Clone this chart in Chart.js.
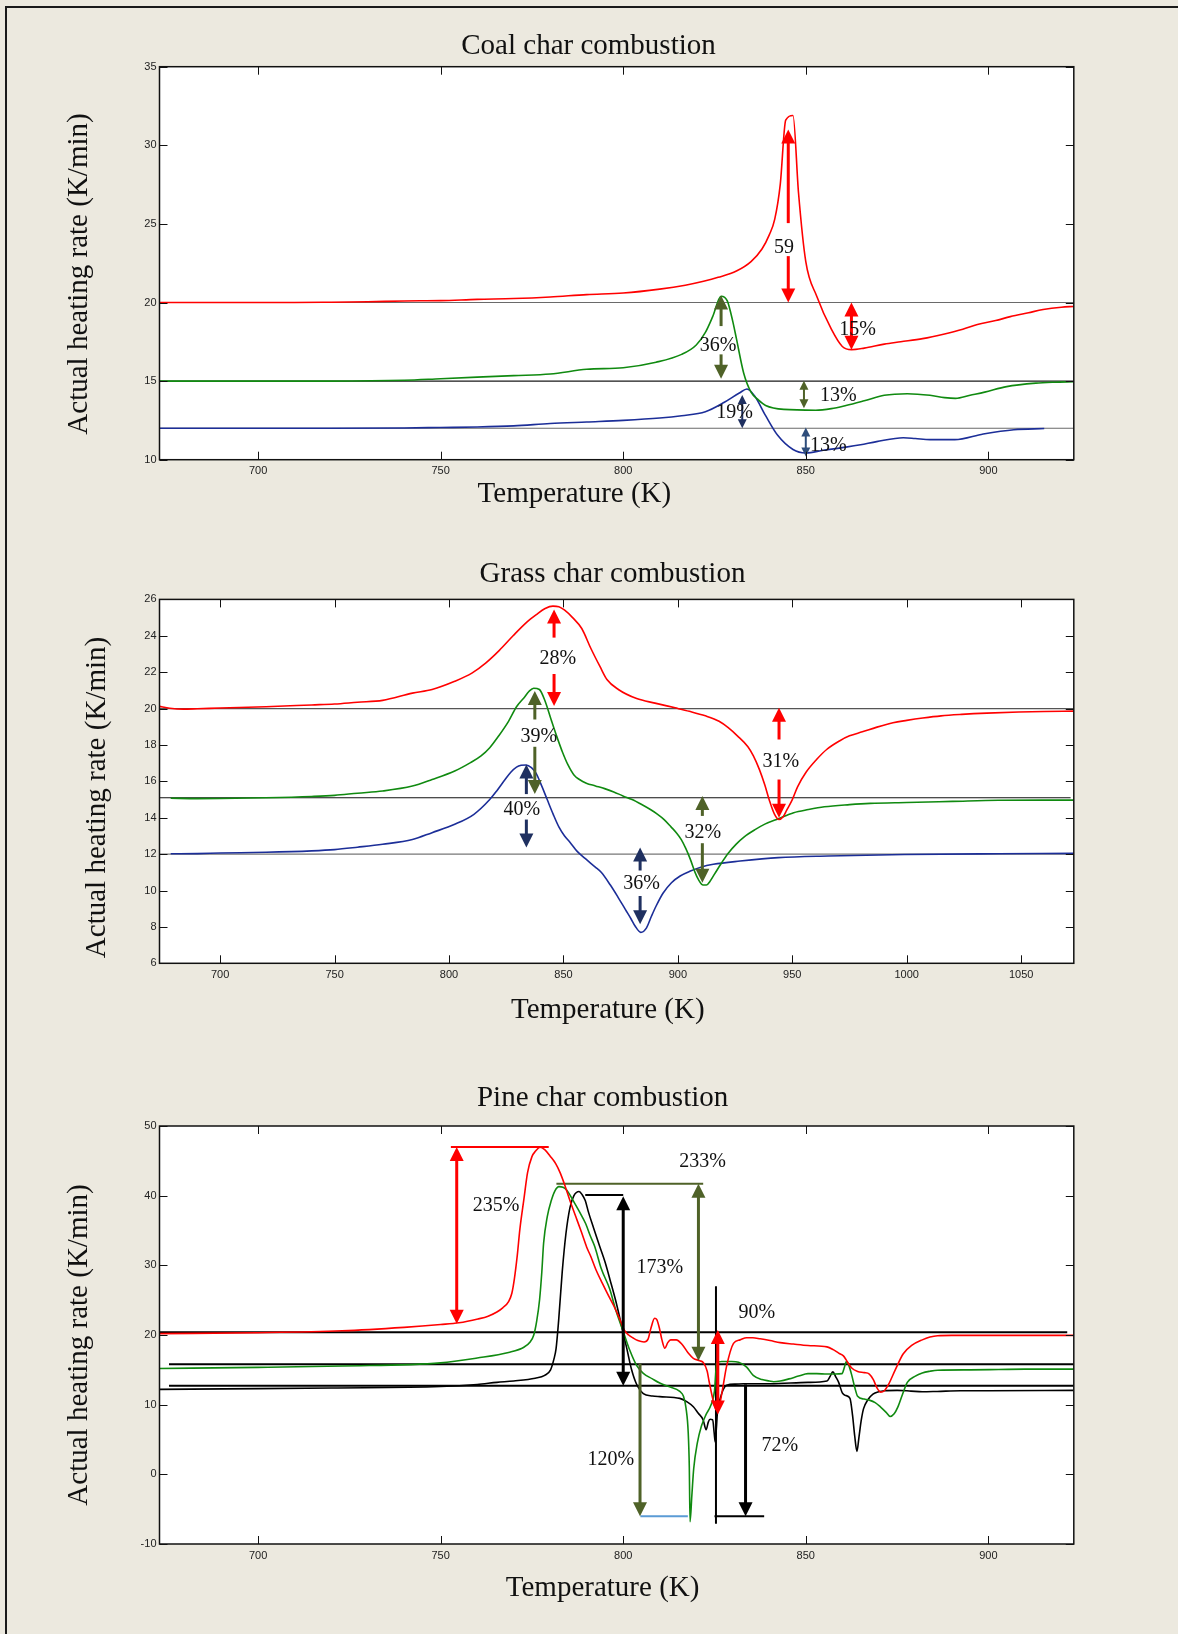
<!DOCTYPE html>
<html>
<head>
<meta charset="utf-8">
<script src="https://cdn.jsdelivr.net/npm/chart.js@4.4.1/dist/chart.umd.min.js"></script>
<style>
  html, body { margin: 0; padding: 0; background: #ece9df; }
  body { width: 1178px; height: 1634px; position: relative; overflow: hidden; }
  .frame { position: absolute; left: 5px; top: 6px; width: 1200px; height: 1700px;
           border-left: 2px solid #1a1a1a; border-top: 2px solid #1a1a1a; }
  canvas { position: absolute; left: 0; }
</style>
</head>
<body>
<div class="frame"></div>
<canvas id="coal"></canvas>
<canvas id="grass"></canvas>
<canvas id="pine"></canvas>
<script>
// ---------- data: temperature (K) vs actual heating rate (K/min) ----------

const coalXTicks = [700, 750, 800, 850, 900];
const coalYTicks = [10, 15, 20, 25, 30, 35];
const coalBaselines = [20, 15, 12];

const coalRed = [[673,20.0],[690,20.0],[700,20.0],[710,20.0],[720,20.02],[730,20.05],[740,20.1],[750,20.12],[760,20.2],[770,20.25],[780,20.35],[790,20.5],[800,20.6],[810,20.85],[817,21.1],[822,21.35],[826,21.6],[831,22.0],[835,22.6],[838,23.4],[840,24.3],[841.5,25.3],[843,27.5],[844.5,31.6],[846.5,31.9],[848,27.0],[850,22.6],[853,20.4],[857,18.3],[860,17.2],[862.5,17.0],[866,17.1],[871.5,17.35],[876,17.5],[882,17.7],[888,18.0],[893,18.3],[897,18.6],[902,18.85],[906,19.1],[911,19.35],[915,19.55],[920,19.7],[923.4,19.75]];
const coalGreen = [[673,15.0],[700,15.0],[720,15.0],[740,15.05],[750,15.15],[760,15.25],[770,15.35],[780,15.45],[790,15.75],[800,15.85],[809,16.2],[816,16.7],[820,17.3],[822.5,18.1],[824.5,19.1],[826.8,20.4],[828.5,20.1],[830,18.8],[831,17.7],[833,15.5],[835,14.3],[837,13.8],[839,13.45],[844,13.2],[852.7,13.15],[857,13.25],[861,13.45],[866,13.75],[871.5,14.1],[877.8,14.2],[884,14.1],[888,13.95],[891,13.9],[895,14.1],[899,14.3],[905,14.65],[913,14.87],[918,14.93],[923.4,14.96]];
const coalBlue = [[673,12.0],[700,12.0],[720,12.0],[740,12.02],[750,12.05],[760,12.08],[770,12.15],[780,12.3],[790,12.4],[800,12.5],[810,12.65],[816,12.8],[822.5,13.05],[827.7,13.65],[831.8,14.24],[833.9,14.5],[836,14.05],[839,12.8],[842.3,11.55],[846.5,10.65],[850,10.43],[854.8,10.6],[861,10.8],[865,10.95],[869.4,11.15],[876.7,11.4],[880,11.35],[884,11.28],[890.8,11.28],[898.6,11.64],[907,11.91],[915.3,11.98]];

// arrows: x, lo, hi, which heads, optional gap left for the label
const coalArrows = [
  { x: 845.2, lo: 20.0, hi: 31.0, heads: 'both', gap: [22.95, 25.05], color: 'red', size: 'big' },
  { x: 862.5, lo: 17.0, hi: 20.0, heads: 'both', color: 'red', size: 'big' },
  { x: 826.8, lo: 15.15, hi: 20.45, heads: 'both', gap: [16.7, 18.5], color: 'olive', size: 'big' },
  { x: 849.5, lo: 13.27, hi: 15.03, heads: 'both', color: 'olive', size: 'small' },
  { x: 832.6, lo: 12.0, hi: 14.12, heads: 'both', color: 'navy', size: 'small' },
  { x: 850.0, lo: 10.2, hi: 12.05, heads: 'both', color: 'steel', size: 'small' }
];
const coalLabels = [
  { x: 844.0, y: 23.46, text: '59' },
  { x: 864.2, y: 18.29, text: '15%' },
  { x: 826.0, y: 17.23, text: '36%' },
  { x: 858.9, y: 14.04, text: '13%' },
  { x: 830.5, y: 12.98, text: '19%' },
  { x: 856.2, y: 10.86, text: '13%' }
];

const grassXTicks = [700, 750, 800, 850, 900, 950, 1000, 1050];
const grassYTicks = [6, 8, 10, 12, 14, 16, 18, 20, 22, 24, 26];
const grassBaselines = [20, 15.1, 12];

const grassRed = [[673.4,20.12],[678,20.02],[684,19.97],[690,19.99],[700,20.03],[720,20.1],[740,20.2],[750,20.25],[760,20.35],[771,20.45],[784,20.85],[792.6,21.05],[802.5,21.5],[810,21.95],[816,22.5],[822,23.2],[828,24.0],[834,24.75],[838,25.15],[842,25.5],[845.4,25.63],[848,25.6],[850.4,25.42],[854,25.0],[858,24.4],[862,23.3],[866,22.3],[869,21.6],[874,21.05],[882,20.55],[890,20.3],[898.8,20.04],[905,19.85],[912,19.6],[918,19.3],[922,18.95],[926,18.5],[930.6,17.9],[933,17.4],[935.6,16.66],[938,15.8],[940,14.95],[942.2,14.2],[944.2,13.9],[946,14.05],[947.5,14.4],[950,15.0],[952.3,15.7],[956,16.5],[960.6,17.2],[965,17.75],[970.6,18.22],[975,18.5],[980.6,18.72],[987,18.98],[994,19.22],[1000,19.35],[1007,19.48],[1015,19.6],[1024,19.68],[1035,19.75],[1049,19.81],[1060,19.84],[1073,19.86]];
const grassGreen = [[678.4,15.07],[690,15.05],[700,15.06],[720,15.1],[740,15.17],[750,15.23],[760,15.35],[771,15.47],[784,15.74],[792.6,16.1],[802.5,16.57],[809.4,17.03],[814,17.4],[817.8,17.85],[822,18.55],[826,19.3],[829.5,20.1],[832.8,20.6],[835,20.95],[837,21.12],[839.5,21.05],[842,20.4],[844.6,19.4],[847,18.5],[849.6,17.6],[852,16.9],[854.6,16.35],[857,16.1],[860,15.9],[864,15.75],[868,15.6],[872,15.42],[876,15.2],[880,15.0],[884,14.74],[888,14.45],[891,14.2],[894,13.9],[897,13.5],[899.5,13.15],[901.5,12.8],[903.5,12.3],[905.5,11.7],[907.5,11.0],[909,10.6],[911,10.3],[912.5,10.3],[914,10.5],[916,10.9],[919,11.5],[922,12.05],[925.5,12.55],[929,12.95],[933.9,13.36],[938,13.65],[943.9,13.95],[950.6,14.28],[957,14.45],[964,14.6],[975,14.72],[984,14.79],[1000,14.84],[1020,14.9],[1040,14.96],[1073,14.97]];
const grassBlue = [[678.4,12.02],[690,12.03],[700,12.06],[720,12.1],[740,12.18],[750,12.25],[760,12.38],[771,12.54],[784,12.8],[792.6,13.18],[802.5,13.64],[810.9,14.19],[817.8,15.0],[821,15.5],[824.5,16.1],[827,16.5],[829.5,16.78],[831.5,16.88],[833.7,16.9],[836,16.75],[838,16.45],[840,15.9],[842.9,15.0],[845.5,14.2],[848,13.5],[850.5,13.0],[853,12.63],[856,12.15],[859.6,11.75],[863.8,11.3],[866.5,11.0],[870.5,10.3],[874,9.6],[877.1,8.95],[879.5,8.45],[881.3,8.05],[883.8,7.7],[886.3,7.95],[888.5,8.6],[890.5,9.15],[893.5,9.85],[897.2,10.43],[901,10.8],[905.5,11.07],[910,11.28],[915.5,11.44],[927.2,11.62],[943.9,11.81],[965.6,11.9],[999,11.98],[1040,12.02],[1073,12.04]];

const grassArrows = [
  { x: 845.9, lo: 20.14, hi: 25.45, heads: 'both', gap: [21.9, 23.9], color: 'red', size: 'big' },
  { x: 837.5, lo: 15.3, hi: 20.96, heads: 'both', gap: [17.9, 19.4], color: 'olive', size: 'big' },
  { x: 833.8, lo: 12.36, hi: 16.93, heads: 'both', gap: [13.9, 15.3], color: 'navy', size: 'big' },
  { x: 883.5, lo: 8.14, hi: 12.36, heads: 'both', gap: [9.7, 11.1], color: 'navy', size: 'big' },
  { x: 910.7, lo: 10.43, hi: 15.2, heads: 'both', gap: [12.6, 14.1], color: 'olive', size: 'big' },
  { x: 944.2, lo: 14.0, hi: 20.05, heads: 'both', gap: [16.1, 18.3], color: 'red', size: 'big' }
];
const grassLabels = [
  { x: 847.5, y: 22.73, text: '28%' },
  { x: 839.3, y: 18.44, text: '39%' },
  { x: 831.8, y: 14.42, text: '40%' },
  { x: 884.1, y: 10.36, text: '36%' },
  { x: 910.9, y: 13.16, text: '32%' },
  { x: 945.0, y: 17.06, text: '31%' }
];

const pineXTicks = [700, 750, 800, 850, 900];
const pineYTicks = [-10, 0, 10, 20, 30, 40, 50];

const pineRed = [[673,20.2],[700,20.33],[723,20.6],[740,21.1],[750,21.5],[755,21.75],[760.2,22.3],[763,22.7],[765.4,23.3],[767,23.9],[768.6,24.8],[769.5,26.0],[770.2,28.1],[771,31.5],[771.7,35.2],[772.8,39.5],[773.8,43.3],[775,45.6],[776,46.4],[777.2,46.96],[778.5,46.6],[780.1,45.6],[781.5,44.6],[782.8,43.2],[784,41.5],[785.4,39.3],[787,37.0],[788.6,34.7],[790,32.6],[791.1,31.3],[792.5,29.4],[794.3,27.4],[796,25.6],[797.4,24.2],[798.8,22.6],[800.3,20.7],[801.5,20.0],[802.6,19.6],[804,19.2],[805.7,19.0],[806.8,19.4],[807.6,21.0],[808.6,22.4],[809.2,22.2],[809.9,21.0],[810.6,19.3],[811.4,18.1],[812.2,18.9],[813,19.3],[814.5,19.3],[816.2,18.6],[817.8,17.4],[819.2,16.65],[821,16.3],[822,16.0],[823,14.8],[823.5,13.4],[824.5,10.9],[825.4,9.3],[826.2,9.6],[827.1,11.9],[828.3,15.5],[830.2,18.8],[832,19.3],[833.8,19.6],[835.5,19.6],[837.5,19.45],[840.2,19.2],[843,18.9],[846.6,18.7],[850.6,18.5],[855.8,18.3],[857.5,17.9],[859,17.4],[860.3,17.0],[861.1,16.4],[862.5,15.3],[864.2,14.75],[866,14.6],[867.4,14.4],[868.5,13.6],[869.5,12.4],[870.5,11.8],[871.5,12.0],[872.7,12.95],[874.5,15.0],[876.7,17.3],[879,18.5],[881.9,19.3],[884,19.7],[886.1,19.9],[890,19.95],[900,19.95],[923.4,19.95]];
const pineGreen = [[673,15.2],[700,15.35],[723,15.55],[750,16.0],[760,16.7],[768.6,17.5],[772.8,18.25],[774.5,19.0],[775.5,20.0],[776.3,22.0],[777.1,25.1],[777.7,29.0],[778.2,33.2],[779.2,37.0],[780.3,39.3],[781.3,40.7],[782.4,41.3],[783.5,41.2],[784.5,40.8],[786.6,39.0],[788,37.7],[789.7,36.0],[791,34.2],[792.2,32.7],[794,29.5],[796.3,26.6],[798,23.5],[800,20.5],[801.8,17.8],[803.7,15.6],[805.5,14.5],[808,13.7],[810,13.1],[812.5,12.6],[815.5,11.9],[816.5,11.2],[817.2,9.5],[817.8,6.0],[818.1,1.0],[818.3,-6.8],[818.8,-3.0],[819.3,0.8],[820.3,4.5],[821.4,6.9],[822.7,8.6],[824,9.9],[825,12.0],[825.6,16.0],[827,16.2],[829.7,16.2],[831.6,16.1],[833.8,15.4],[835.6,14.2],[838,13.6],[840,13.4],[841.2,13.3],[843,13.4],[845.4,13.7],[848,14.1],[850.6,14.45],[853,14.45],[855.8,14.4],[858,14.4],[859.9,14.45],[860.6,15.4],[861.1,16.2],[861.8,15.6],[862.6,14.2],[863.4,12.5],[864.2,11.2],[866,10.8],[867.4,10.65],[869,10.3],[870.5,9.65],[872,8.9],[873.1,8.3],[874.2,8.7],[875.2,9.65],[876.5,11.5],[877.8,13.2],[880,14.1],[881.9,14.55],[884,14.8],[886.1,14.95],[895,15.0],[902.8,15.05],[910,15.1],[923.4,15.1]];
const pineBlack = [[673,12.2],[700,12.3],[720,12.4],[750,12.6],[760,12.9],[765.4,13.2],[770,13.4],[775.9,13.8],[778.5,14.2],[780.1,15.0],[781,16.5],[781.6,18.0],[782.3,22.0],[783.3,29.1],[784.3,34.5],[785.4,38.25],[786.5,40.0],[787.9,40.6],[788.8,40.1],[789.6,39.3],[790.5,37.6],[791.8,35.5],[793.5,32.8],[795,30.5],[796.4,27.9],[798,24.8],[799.6,21.2],[801,18.0],[802.3,15.0],[803.6,13.0],[805.5,11.6],[808,11.25],[810,11.15],[815.5,10.9],[817.5,10.4],[819.2,9.7],[820.5,8.8],[821.9,7.8],[822.7,6.4],[823.3,7.5],[823.8,7.9],[824.5,7.85],[824.9,6.0],[825.2,4.6],[825.5,6.5],[825.8,8.9],[826.5,10.8],[828.3,12.8],[830.8,12.95],[832.9,13.0],[840.2,13.0],[850.6,13.2],[855.8,13.4],[856.6,14.0],[857.4,14.7],[858.2,14.0],[859,13.2],[860,11.7],[861,11.3],[862.1,10.9],[862.8,8.5],[863.4,5.5],[864,3.3],[864.6,5.5],[865.2,7.8],[865.8,9.4],[867,10.7],[868.4,11.5],[870,11.85],[871.5,12.0],[875,12.05],[878.8,11.95],[881.9,11.85],[886,11.9],[892.4,12.0],[900,12.0],[923.4,12.05]];

// baseline levels of the three runs, with their extent in K
const pineBaselines = [[20.4, 673, 921.6], [15.8, 675.6, 923.4], [12.7, 675.6, 923.4]];

// reference segments marking peak heights and dip depths
const pineMarkers = [
  { pts: [[752.8, 47.0], [779.6, 47.0]], color: 'red' },
  { pts: [[781.7, 41.7], [821.9, 41.7]], color: 'olive' },
  { pts: [[789.6, 40.1], [800.0, 40.1]], color: 'black' },
  { pts: [[825.4, 27.0], [825.4, -7.1]], color: 'black' },
  { pts: [[825.0, -6.0], [838.6, -6.0]], color: 'black' },
  { pts: [[804.7, -6.0], [817.7, -6.0]], color: 'sky' }
];
const pineArrows = [
  { x: 754.4, lo: 21.6, hi: 47.0, heads: 'both', color: 'red', size: 'big' },
  { x: 800.0, lo: 12.7, hi: 39.9, heads: 'both', color: 'black', size: 'big' },
  { x: 820.6, lo: 16.3, hi: 41.7, heads: 'both', color: 'olive', size: 'big' },
  { x: 804.6, lo: -6.0, hi: 15.9, heads: 'lo', color: 'olive', size: 'big' },
  { x: 833.5, lo: -6.0, hi: 12.9, heads: 'lo', color: 'black', size: 'big' },
  { x: 825.9, lo: 8.6, hi: 20.7, heads: 'both', color: 'red', size: 'big' }
];
const pineLabels = [
  { x: 765.2, y: 38.49, text: '235%' },
  { x: 821.7, y: 44.93, text: '233%' },
  { x: 810.0, y: 29.66, text: '173%' },
  { x: 836.6, y: 23.23, text: '90%' },
  { x: 796.6, y: 2.13, text: '120%' },
  { x: 842.9, y: 4.07, text: '72%' }
];

// ---------- styling ----------

const COLORS = {
  red: '#ff0000',
  green: '#108a10',
  blue: '#1c2e98',
  black: '#000000',
  olive: '#4f6228',
  navy: '#1f3060',
  steel: '#2e4d7b',
  sky: '#5b9bd5'
};
const SERIF = '"Liberation Serif", "Times New Roman", serif';
const SANS = '"Liberation Sans", Arial, sans-serif';
const PAGE_W = 1178;
const Y_AXIS_W = 42;
const X_AXIS_H = 28;

function toXY(pts) {
  return pts.map(p => ({ x: p[0], y: p[1] }));
}

function curve(pts, color) {
  return { data: toXY(pts), borderColor: color, borderWidth: 1.6, pointRadius: 0, fill: false,
           cubicInterpolationMode: 'monotone', order: 0 };
}

function rule(pts, color, width) {
  return { data: toXY(pts), borderColor: color, borderWidth: width, pointRadius: 0, fill: false, order: 1 };
}

function drawArrow(ctx, xs, ys, a) {
  const big = a.size === 'big';
  const headW = big ? 14 : 9;
  const headL = big ? 14 : 9;
  const px = xs.getPixelForValue(a.x);
  const pLo = ys.getPixelForValue(a.lo);
  const pHi = ys.getPixelForValue(a.hi);
  const color = COLORS[a.color];
  const hasHi = a.heads === 'both' || a.heads === 'hi';
  const hasLo = a.heads === 'both' || a.heads === 'lo';
  ctx.save();
  ctx.strokeStyle = color;
  ctx.fillStyle = color;
  ctx.lineWidth = big ? 3 : 2;
  const top = hasHi ? pHi + headL - 1 : pHi;
  const bottom = hasLo ? pLo - headL + 1 : pLo;
  const segs = [];
  if (a.gap) {
    segs.push([top, ys.getPixelForValue(a.gap[1])], [ys.getPixelForValue(a.gap[0]), bottom]);
  } else {
    segs.push([top, bottom]);
  }
  segs.forEach(s => {
    if (s[1] > s[0]) {
      ctx.beginPath();
      ctx.moveTo(px, s[0]);
      ctx.lineTo(px, s[1]);
      ctx.stroke();
    }
  });
  if (hasHi) {
    ctx.beginPath();
    ctx.moveTo(px, pHi);
    ctx.lineTo(px - headW / 2, pHi + headL);
    ctx.lineTo(px + headW / 2, pHi + headL);
    ctx.closePath();
    ctx.fill();
  }
  if (hasLo) {
    ctx.beginPath();
    ctx.moveTo(px, pLo);
    ctx.lineTo(px - headW / 2, pLo - headL);
    ctx.lineTo(px + headW / 2, pLo - headL);
    ctx.closePath();
    ctx.fill();
  }
  ctx.restore();
}

// white plot background, box with inward ticks, titles and annotations
const panelDecor = {
  id: 'panelDecor',
  beforeDatasetsDraw(chart) {
    const { ctx, chartArea: a } = chart;
    ctx.save();
    ctx.fillStyle = '#ffffff';
    ctx.fillRect(a.left, a.top, a.right - a.left, a.bottom - a.top);
    ctx.restore();
  },
  afterDraw(chart, args, opts) {
    const { ctx, chartArea: a } = chart;
    const xs = chart.scales.x;
    const ys = chart.scales.y;
    ctx.save();

    // arrows and percentage labels
    (opts.arrows || []).forEach(ar => drawArrow(ctx, xs, ys, ar));
    ctx.fillStyle = '#111';
    ctx.font = '20px ' + SERIF;
    ctx.textAlign = 'center';
    ctx.textBaseline = 'middle';
    (opts.labels || []).forEach(l => {
      ctx.fillText(l.text, xs.getPixelForValue(l.x), ys.getPixelForValue(l.y));
    });

    // axes box
    ctx.strokeStyle = '#111';
    ctx.lineWidth = 1.5;
    ctx.strokeRect(a.left, a.top, a.right - a.left, a.bottom - a.top);
    ctx.lineWidth = 1;
    const tl = 8;
    ctx.beginPath();
    xs.ticks.forEach(t => {
      const x = Math.round(xs.getPixelForValue(t.value)) + 0.5;
      ctx.moveTo(x, a.bottom); ctx.lineTo(x, a.bottom - tl);
      ctx.moveTo(x, a.top); ctx.lineTo(x, a.top + tl);
    });
    ys.ticks.forEach(t => {
      const y = Math.round(ys.getPixelForValue(t.value)) + 0.5;
      ctx.moveTo(a.left, y); ctx.lineTo(a.left + tl, y);
      ctx.moveTo(a.right, y); ctx.lineTo(a.right - tl, y);
    });
    ctx.stroke();

    // titles
    const off = opts.offset;
    ctx.fillStyle = '#111';
    ctx.font = '29px ' + SERIF;
    ctx.textAlign = 'center';
    ctx.textBaseline = 'middle';
    ctx.fillText(opts.title, opts.titlePos[0], opts.titlePos[1] - off);
    ctx.fillText('Temperature (K)', opts.xTitlePos[0], opts.xTitlePos[1] - off);
    ctx.translate(opts.yTitlePos[0], opts.yTitlePos[1] - off);
    ctx.rotate(-Math.PI / 2);
    ctx.fillText('Actual heating rate (K/min)', 0, 0);
    ctx.restore();
  }
};

function makePanel(p) {
  const canvas = document.getElementById(p.id);
  canvas.width = PAGE_W;
  canvas.height = p.height;
  canvas.style.top = p.top + 'px';
  const box = p.plot;
  new Chart(canvas, {
    type: 'line',
    data: { datasets: p.datasets },
    options: {
      responsive: false,
      animation: false,
      devicePixelRatio: 1,
      layout: {
        padding: {
          left: box.left - Y_AXIS_W,
          right: PAGE_W - box.right,
          top: box.top - p.top,
          bottom: p.top + p.height - box.bottom - X_AXIS_H
        }
      },
      plugins: {
        legend: { display: false },
        tooltip: { enabled: false },
        panelDecor: {
          offset: p.top,
          title: p.title,
          titlePos: p.titlePos,
          xTitlePos: p.xTitlePos,
          yTitlePos: p.yTitlePos,
          arrows: p.arrows,
          labels: p.labels
        }
      },
      scales: {
        x: {
          type: 'linear',
          min: p.xRange[0],
          max: p.xRange[1],
          afterBuildTicks: s => { s.ticks = p.xTicks.map(v => ({ value: v })); },
          afterFit: s => { s.height = X_AXIS_H; },
          grid: { display: false, drawTicks: false },
          border: { display: false },
          ticks: { autoSkip: false, maxRotation: 0, padding: 5, color: '#222',
                   font: { family: SANS, size: 11 }, callback: v => String(v) }
        },
        y: {
          type: 'linear',
          min: p.yRange[0],
          max: p.yRange[1],
          afterBuildTicks: s => { s.ticks = p.yTicks.map(v => ({ value: v })); },
          afterFit: s => { s.width = Y_AXIS_W; },
          grid: { display: false, drawTicks: false },
          border: { display: false },
          ticks: { autoSkip: false, padding: 3, color: '#222',
                   font: { family: SANS, size: 11 }, callback: v => String(v) }
        }
      }
    },
    plugins: [panelDecor]
  });
}

// ---------- panels ----------

makePanel({
  id: 'coal', top: 0, height: 530,
  plot: { left: 159.5, right: 1073.8, top: 66.7, bottom: 459.7 },
  xRange: [673, 923.4], yRange: [10, 35],
  xTicks: coalXTicks, yTicks: coalYTicks,
  title: 'Coal char combustion',
  titlePos: [588.5, 46], xTitlePos: [574.4, 494], yTitlePos: [79, 274],
  datasets: [
    curve(coalRed, COLORS.red),
    curve(coalGreen, COLORS.green),
    curve(coalBlue, COLORS.blue),
    rule([[673, coalBaselines[0]], [923.4, coalBaselines[0]]], '#6a6a6a', 1.2),
    rule([[673, coalBaselines[1]], [923.4, coalBaselines[1]]], '#1a1a1a', 1.2),
    rule([[673, coalBaselines[2]], [923.4, coalBaselines[2]]], '#6a6a6a', 1.2)
  ],
  arrows: coalArrows, labels: coalLabels
});

makePanel({
  id: 'grass', top: 530, height: 515,
  plot: { left: 159.5, right: 1073.8, top: 599.4, bottom: 963.3 },
  xRange: [673.5, 1073], yRange: [6, 26],
  xTicks: grassXTicks, yTicks: grassYTicks,
  title: 'Grass char combustion',
  titlePos: [612.5, 574], xTitlePos: [607.8, 1010], yTitlePos: [97, 797.5],
  datasets: [
    curve(grassRed, COLORS.red),
    curve(grassGreen, COLORS.green),
    curve(grassBlue, COLORS.blue),
    rule([[673.5, grassBaselines[0]], [1073, grassBaselines[0]]], '#555555', 1.2),
    rule([[673.5, grassBaselines[1]], [1071.6, grassBaselines[1]]], '#111111', 1.2),
    rule([[673.5, grassBaselines[2]], [1073, grassBaselines[2]]], '#777777', 1.2)
  ],
  arrows: grassArrows, labels: grassLabels
});

makePanel({
  id: 'pine', top: 1045, height: 589,
  plot: { left: 159.5, right: 1073.8, top: 1126, bottom: 1544 },
  xRange: [673, 923.4], yRange: [-10, 50],
  xTicks: pineXTicks, yTicks: pineYTicks,
  title: 'Pine char combustion',
  titlePos: [602.6, 1098], xTitlePos: [602.6, 1588], yTitlePos: [79, 1345],
  datasets: [
    curve(pineRed, COLORS.red),
    curve(pineGreen, COLORS.green),
    curve(pineBlack, COLORS.black),
    ...pineBaselines.map(b => rule([[b[1], b[0]], [b[2], b[0]]], '#000000', 2)),
    ...pineMarkers.map(m => rule(m.pts, COLORS[m.color], 2))
  ],
  arrows: pineArrows, labels: pineLabels
});
</script>
</body>
</html>
